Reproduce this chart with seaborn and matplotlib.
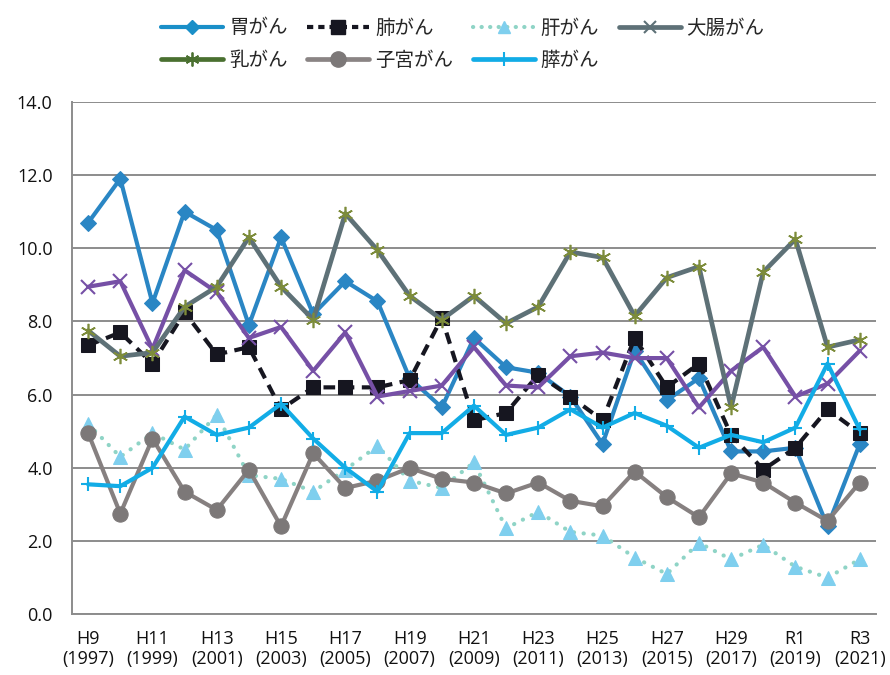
import numpy as np
import pandas as pd
import matplotlib
matplotlib.use("Agg")
import matplotlib.pyplot as plt
from matplotlib.lines import Line2D
import seaborn as sns

# ─── data ────────────────────────────────────────────────────────────────────
tick_labels = ["H9\n(1997)", "H11\n(1999)", "H13\n(2001)", "H15\n(2003)",
               "H17\n(2005)", "H19\n(2007)", "H21\n(2009)", "H23\n(2011)",
               "H25\n(2013)", "H27\n(2015)", "H29\n(2017)", "R1\n(2019)",
               "R3\n(2021)"]
years = list(range(1997, 2022))

stomach  = [10.7, 11.9, 8.5, 11.0, 10.5, 7.9, 10.3, 8.2, 9.1, 8.55, 6.45, 5.65, 7.55,
            6.75, 6.6, 5.95, 4.65, 7.2, 5.85, 6.45, 4.45, 4.45, 4.55, 2.4, 4.65]
lung     = [7.35, 7.7, 6.85, 8.25, 7.1, 7.3, 5.6, 6.2, 6.2, 6.2, 6.4, 8.1, 5.3,
            5.5, 6.55, 5.95, 5.3, 7.55, 6.2, 6.85, 4.9, 3.95, 4.55, 5.6, 4.95]
liver    = [5.2, 4.3, 4.95, 4.5, 5.45, 3.8, 3.7, 3.35, 3.95, 4.6, 3.65, 3.45, 4.15,
            2.35, 2.8, 2.25, 2.15, 1.55, 1.1, 1.95, 1.5, 1.9, 1.3, 1.0, 1.5]
colon    = [8.95, 9.1, 7.25, 9.4, 8.8, 7.55, 7.85, 6.65, 7.7, 5.95, 6.1, 6.25, 7.3,
            6.25, 6.2, 7.05, 7.15, 7.0, 7.0, 5.65, 6.65, 7.3, 5.95, 6.3, 7.2]
breast   = [7.75, 7.05, 7.15, 8.4, 8.95, 10.3, 8.95, 8.05, 10.95, 9.95, 8.7, 8.05, 8.7,
            7.95, 8.4, 9.9, 9.75, 8.15, 9.2, 9.5, 5.65, 9.35, 10.25, 7.3, 7.5]
uterus   = [4.95, 2.75, 4.8, 3.35, 2.85, 3.95, 2.4, 4.4, 3.45, 3.65, 4.0, 3.7, 3.6,
            3.3, 3.6, 3.1, 2.95, 3.9, 3.2, 2.65, 3.85, 3.6, 3.05, 2.55, 3.6]
pancreas = [3.55, 3.5, 4.0, 5.4, 4.9, 5.1, 5.75, 4.8, 4.0, 3.35, 4.95, 4.95, 5.7,
            4.9, 5.1, 5.6, 5.1, 5.5, 5.15, 4.55, 4.9, 4.7, 5.1, 6.85, 5.05]

sns.set_style("white")
plt.rcParams["font.family"] = ["Noto Sans CJK JP", "DejaVu Sans"]

fig = plt.figure(figsize=(8.9, 6.75), dpi=100)
ax = fig.add_axes([0.081, 0.090, 0.903, 0.759])

x = np.arange(len(years))
GRID = "#8c8c8c"

# series styles as drawn in the plot area
styles = [
    (stomach,  dict(color="#2a86c4", lw=3.0, ls="-", marker="D", ms=8,
                    mec="#2a86c4", mfc="#2a86c4")),
    (lung,     dict(color="#161620", lw=3.0, ls=(0, (2.8, 1.8)), marker="s", ms=10,
                    mec="#161620", mfc="#161620")),
    (liver,    dict(color="#8fd4c6", lw=3.0, ls=(0, (0.05, 2.3)), marker="^", ms=10,
                    mec="#7fcfee", mfc="#7fcfee", dash_capstyle="round")),
    (colon,    dict(color="#7650a6", lw=3.0, ls="-", marker="x", ms=10, mew=1.5,
                    mec="#7650a6")),
    (breast,   dict(color="#5e7177", lw=3.4, ls="-", marker=(6, 2, 0), ms=11, mew=1.2,
                    mec="#7d8c3a")),
    (uterus,   dict(color="#868080", lw=3.0, ls="-", marker="o", ms=11,
                    mec="#7c7878", mfc="#7c7878")),
    (pancreas, dict(color="#12ace6", lw=3.0, ls="-", marker="+", ms=10, mew=1.5,
                    mec="#12ace6")),
]

for vals, st in styles:
    df = pd.DataFrame({"x": x, "y": vals})
    ls = st.pop("ls")
    lw = st.pop("lw")
    sns.lineplot(data=df, x="x", y="y", ax=ax, linestyle=ls, linewidth=lw, **st)

# axes
ax.set_ylim(0, 14)
ax.set_xlim(-0.5, len(years) - 0.5)
ax.set_yticks(np.arange(0, 14.1, 2))
ax.set_yticklabels([f"{v:.1f}" for v in np.arange(0, 14.1, 2)])
ax.yaxis.grid(True, color=GRID, lw=1.4)
ax.set_axisbelow(True)
ax.set_xticks(x[::2])
ax.set_xticklabels(tick_labels)
ax.set_xticks(np.arange(-0.5, len(years), 1), minor=True)
ax.tick_params(axis="x", which="major", length=0, pad=11, labelsize=13, colors="#111111")
ax.tick_params(axis="x", which="minor", length=6, width=1.4, color=GRID, direction="out")
ax.tick_params(axis="y", length=6, width=1.4, color=GRID, labelsize=13, pad=8,
               colors="#111111")
ax.tick_params(axis="y", color=GRID)
for lab in ax.get_xticklabels() + ax.get_yticklabels():
    lab.set_family(["Open Sans", "DejaVu Sans"])
ax.set_xlabel("")
ax.set_ylabel("")
for side in ["top", "right"]:
    ax.spines[side].set_visible(False)
for side in ["left", "bottom"]:
    ax.spines[side].set_color(GRID)
    ax.spines[side].set_linewidth(1.4)

# legend as it appears in the reference (ordered so rows read like the original)
h = {
    "胃がん": Line2D([], [], color="#1a8fc8", lw=3, marker="D", ms=7),
    "肺がん": Line2D([], [], color="#161620", lw=3, ls=(0, (1.5, 1.2)), marker="s", ms=10),
    "肝がん": Line2D([], [], color="#8fd4c6", lw=3, ls=(0, (0.05, 2.0)), marker="^", ms=9,
                   mfc="#7fcfee", mec="#7fcfee", dash_capstyle="round"),
    "大腸がん": Line2D([], [], color="#5e7177", lw=3.4, marker="x", ms=9, mew=1.5),
    "乳がん": Line2D([], [], color="#4a7030", lw=3.4, marker=(6, 2, 0), ms=10, mew=1.3),
    "子宮がん": Line2D([], [], color="#8a8484", lw=3.4, marker="o", ms=11,
                    mfc="#7c7878", mec="#7c7878"),
    "膵がん": Line2D([], [], color="#12ace6", lw=3.4, marker="+", ms=10, mew=1.5),
}
order = ["胃がん", "乳がん", "肺がん", "子宮がん", "肝がん", "膵がん", "大腸がん"]
fig.legend([h[k] for k in order], order, ncol=4, loc="upper center",
           bbox_to_anchor=(0.52, 1.0), frameon=False, fontsize=14,
           handlelength=3.2, columnspacing=1.0, handletextpad=0.3, labelspacing=0.6)

fig.savefig("out.png", dpi=100, facecolor="white")
